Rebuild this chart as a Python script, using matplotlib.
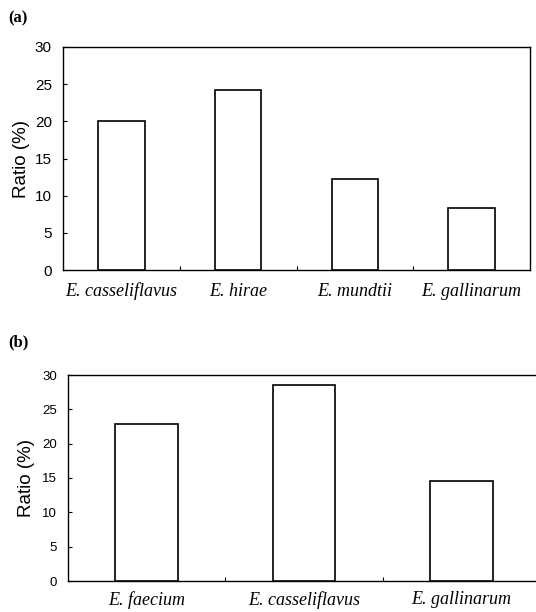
import matplotlib
matplotlib.use("Agg")
import matplotlib.pyplot as plt
import numpy as np

cats_a = ["E. casseliflavus", "E. hirae", "E. mundtii", "E. gallinarum"]
vals_a = [20.0, 24.2, 12.2, 8.3]
cats_b = ["E. faecium", "E. casseliflavus", "E. gallinarum"]
vals_b = [22.9, 28.5, 14.6]
yticks = [0, 5, 10, 15, 20, 25, 30]
ylabel = "Ratio (%)"

W, H = 536, 612
fig = plt.figure(figsize=(W / 100, H / 100), dpi=100)

def px_axes(l, t, r, b):
    return fig.add_axes([l / W, 1 - b / H, (r - l) / W, (b - t) / H])

def draw(ax, cats, vals, tickfam, ticksize, tickpad, labelpad_x):
    x = np.arange(len(cats))
    ax.bar(x, vals, width=0.4, color="white", edgecolor="black", linewidth=1.2, zorder=3)
    ax.set_xlim(-0.5, len(cats) - 0.5)
    ax.set_ylim(0, 30)
    ax.set_yticks(yticks)
    ax.set_yticklabels([str(v) for v in yticks], family=tickfam, fontsize=ticksize)
    ax.tick_params(axis="y", direction="in", length=3, width=0.8, pad=tickpad)
    ax.set_xticks(x)
    ax.set_xticklabels(cats, family=["Liberation Serif"], style="italic", fontsize=13)
    ax.tick_params(axis="x", which="major", length=0, pad=labelpad_x)
    ax.set_xticks(np.arange(0.5, len(cats) - 1, 1.0), minor=True)
    ax.tick_params(axis="x", which="minor", direction="in", length=3, width=0.8)
    for s in ax.spines.values():
        s.set_linewidth(1.0)
    ax.set_ylabel(ylabel, family=["Liberation Sans"], fontsize=13.5)

ax1 = px_axes(63, 47, 530, 270)
draw(ax1, cats_a, vals_a, ["Liberation Sans Narrow", "Liberation Sans"], 11, 8, 9)
ax1.yaxis.set_label_coords(-33 / 467, 0.5)

ax2 = px_axes(68, 375, 540, 581)
draw(ax2, cats_b, vals_b, ["Liberation Sans"], 9.5, 8, 7)
ax2.yaxis.set_label_coords(-33 / 472, 0.5)

fig.text(8 / W, 1 - 18 / H, "(a)", family=["Liberation Serif"], weight="bold", fontsize=12, va="center", ha="left")
fig.text(8 / W, 1 - 342 / H, "(b)", family=["Liberation Serif"], weight="bold", fontsize=12, va="center", ha="left")

fig.savefig("out.png", dpi=100)
